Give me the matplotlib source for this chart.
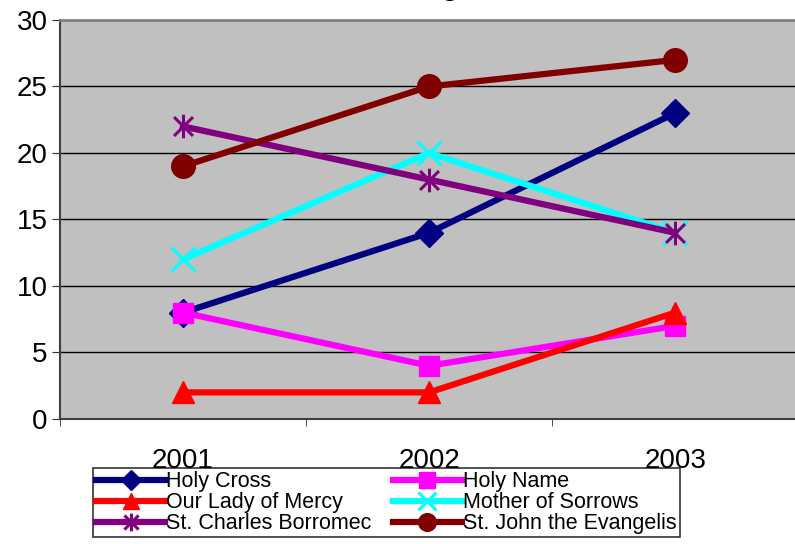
import matplotlib
matplotlib.use("Agg")
import matplotlib.pyplot as plt
from matplotlib.ticker import FixedLocator
from matplotlib.path import Path

plt.rcParams['font.family'] = ['Liberation Sans', 'DejaVu Sans']

years = ['2001', '2002', '2003']
holy_cross = [8, 14, 23]
holy_name = [8, 4, 7]
our_lady = [2, 2, 8]
mother_sorrows = [12, 20, 14]
st_charles = [22, 18, 14]
st_john = [19, 25, 27]

# excel style star: X with a vertical bar
star = Path([(-1, -1), (1, 1), (-1, 1), (1, -1), (0, -1.25), (0, 1.25)],
            [Path.MOVETO, Path.LINETO, Path.MOVETO, Path.LINETO,
             Path.MOVETO, Path.LINETO])

# plotting order = excel series order (later ones on top)
series = [
    ('Holy Cross', holy_cross, '#000080', 'D', 14),
    ('Holy Name', holy_name, '#FF00FF', 's', 15),
    ('Our Lady of Mercy', our_lady, '#FF0000', '^', 16),
    ('Mother of Sorrows', mother_sorrows, '#00FFFF', 'x', 17),
    ('St. Charles Borromec', st_charles, '#800080', star, 17),
    ('St. John the Evangelis', st_john, '#800000', 'o', 17),
]

fig = plt.figure(figsize=(7.95, 5.44), dpi=100)
ax = fig.add_axes([0.0755, 0.2298, 0.9285, 0.7335])
ax.set_facecolor('#C0C0C0')

x = range(len(years))
handles = {}
for name, vals, col, mk, ms in series:
    if isinstance(mk, Path) or mk == 'x':
        h, = ax.plot(x, vals, color=col, lw=4.5, marker=mk, ms=ms, mew=2.2,
                     mec=col, mfc='none', label=name)
    else:
        h, = ax.plot(x, vals, color=col, lw=4.5, marker=mk, ms=ms, mfc=col,
                     mec=col, label=name)
    handles[name] = h

ax.set_xlim(-0.5, 2.5)
ax.set_ylim(0, 30)
ax.set_yticks(range(0, 31, 5))
ax.yaxis.grid(True, color='black', lw=1)
ax.set_axisbelow(True)
ax.set_xticks(list(x))
ax.set_xticklabels(years)
ax.xaxis.set_minor_locator(FixedLocator([-0.5, 0.5, 1.5, 2.5]))
ax.tick_params(axis='x', which='major', length=0, pad=21, labelsize=20)
ax.tick_params(axis='x', which='minor', length=5, color='#333333')
ax.tick_params(axis='y', length=6, labelsize=20, color='#333333', pad=3)

ax.spines['right'].set_visible(False)
ax.spines['top'].set_color('#808080')
ax.spines['top'].set_linewidth(2)
ax.spines['left'].set_color('#404040')
ax.spines['left'].set_linewidth(1.5)
ax.spines['bottom'].set_color('#404040')
ax.spines['bottom'].set_linewidth(1.5)

# title mostly falls off the top of the picture, as in the original
fig.text(0.46, 1.009, 'Parish Rankings', ha='center', va='baseline',
         fontsize=20, fontweight='bold')

order = ['Holy Cross', 'Our Lady of Mercy', 'St. Charles Borromec',
         'Holy Name', 'Mother of Sorrows', 'St. John the Evangelis']
leg = fig.legend([handles[n] for n in order], order,
                 loc='lower left', bbox_to_anchor=(0.117, 0.012, 0.738, 0.105),
                 mode='expand', ncol=2, fontsize=15.5, frameon=True,
                 fancybox=False, edgecolor='black', handlelength=3.2,
                 handletextpad=0.05, labelspacing=0.0, borderpad=0.15,
                 borderaxespad=0, columnspacing=0.5, markerscale=0.75)
leg.get_frame().set_linewidth(1.2)

fig.savefig('out.png', dpi=100)
